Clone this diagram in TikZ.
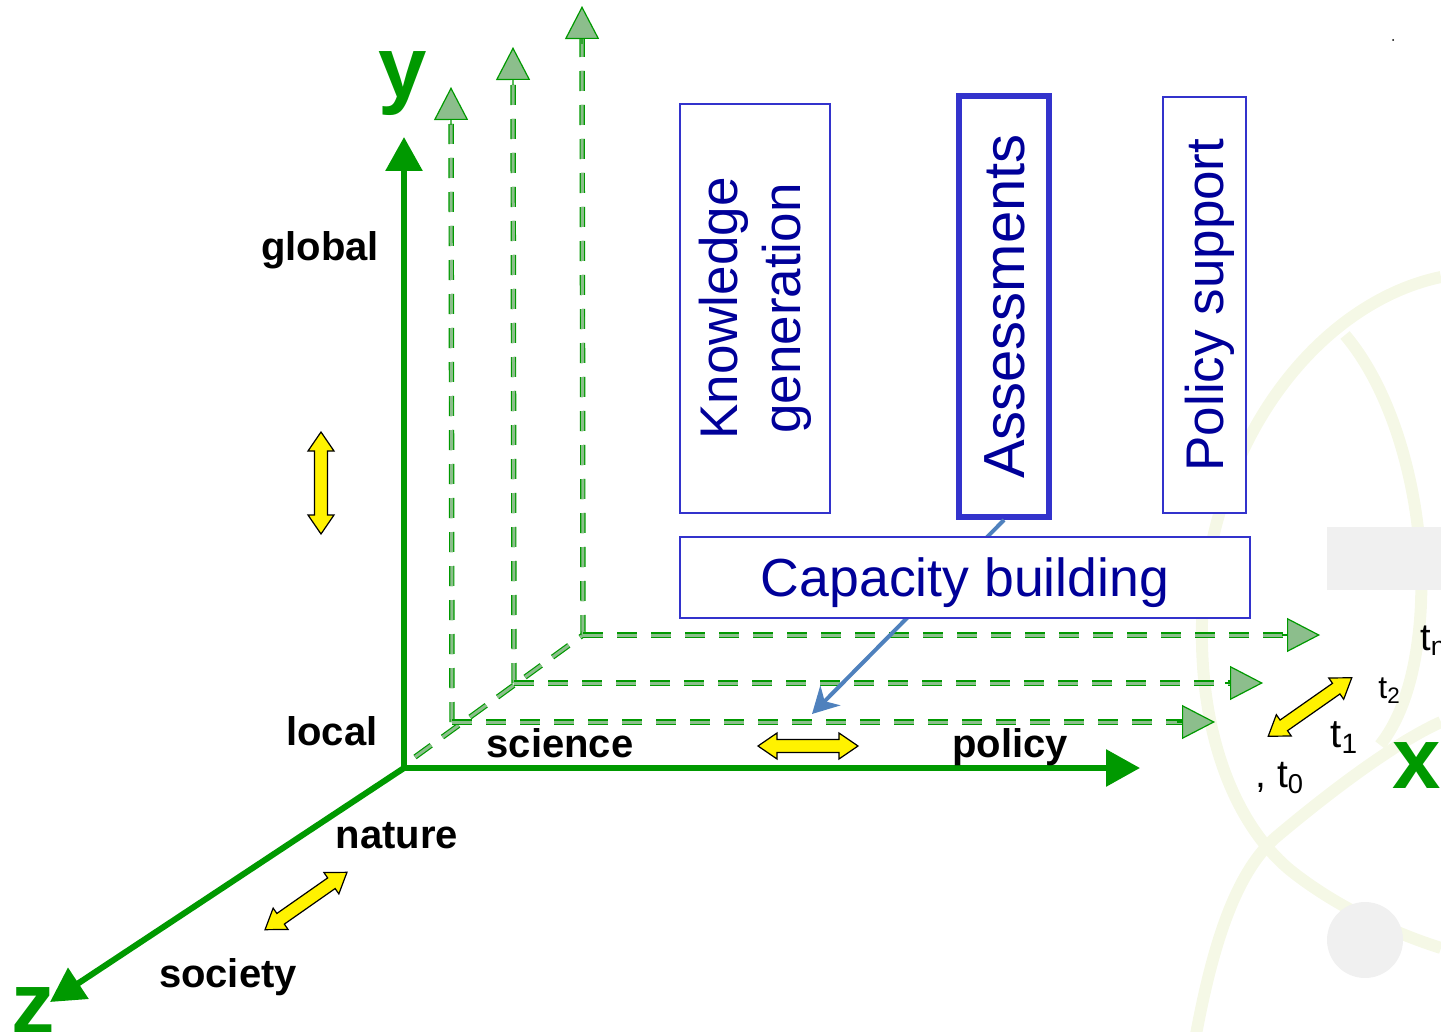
\documentclass[tikz,border=0pt]{standalone}
\usepackage{fontspec}
\setmainfont{Liberation Sans}
\usepackage{xcolor}
\usepackage{tikz}
\usetikzlibrary{calc}
\usetikzlibrary{arrows.meta}

\definecolor{axgreen}{RGB}{0,153,0}
\definecolor{dashfill}{RGB}{140,190,140}
\definecolor{boxblue}{RGB}{51,51,204}
\definecolor{textblue}{RGB}{0,0,153}
\definecolor{linkblue}{RGB}{79,129,189}
\definecolor{wmark}{RGB}{245,248,230}
\definecolor{wgray}{RGB}{240,240,240}

\tikzset{
  ydouble/.pic={%
    \pgfmathsetmacro\ya{#1/2}%
    \pgfmathsetmacro\yb{#1/2-19}%
    \draw[black,line width=0.6pt,fill=yellow] %
      (-\ya,0) -- (-\yb,13) -- (-\yb,6.5) -- (\yb,6.5) -- (\yb,13) -- (\ya,0) %
      -- (\yb,-13) -- (\yb,-6.5) -- (-\yb,-6.5) -- (-\yb,-13) -- cycle;
  }
}

\begin{document}
\begin{tikzpicture}[x=0.5pt,y=-0.5pt,
  axis/.style={axgreen,line width=3pt,-{Triangle[length=17pt,width=18pt]}},
  backline/.style={draw=axgreen,line width=0.6pt,double=dashfill,double distance=1.5pt,dash pattern=on 10pt off 7pt},
  backtip/.style={draw=axgreen,line width=0.6pt,-{Triangle[length=16.5pt,width=17pt,fill=dashfill]}},
  wline/.style={wmark,line width=6pt},
  lbl/.style={font=\fontsize{20}{24}\selectfont\bfseries,anchor=base,inner sep=0pt},
  axlbl/.style={text=axgreen,font=\fontsize{43.5}{50}\selectfont\bfseries,anchor=base,inner sep=0pt},
  tlbl/.style={anchor=base west,inner sep=0pt},
  vbox/.style={draw=boxblue,line width=0.75pt,fill=white,text=textblue,rotate=90,align=center,inner sep=0pt},
  link/.style={linkblue,line width=2pt,-{Stealth[length=13pt,width=14pt,inset=4pt]}}
]
  \useasboundingbox (0,0) rectangle (1441,1032);
  \clip (0,0) rectangle (1441,1032);

  % faint logo in the back
  \draw[wline] (1441,277) .. controls (1330,300) and (1220,420) .. (1203,600) %
    .. controls (1195,720) and (1230,820) .. (1290,870) %
    .. controls (1340,910) and (1400,935) .. (1441,948);
  \draw[wline] (1195,1040) .. controls (1215,930) and (1240,870) .. (1275,838) %
    .. controls (1320,800) and (1390,745) .. (1441,722);
  \draw[wline] (1345,335) .. controls (1400,400) and (1428,520) .. (1420,620) %
    .. controls (1415,680) and (1400,720) .. (1380,745);
  \fill[wgray] (1327,527) rectangle (1441,590);
  \fill[wgray] (1365,940) circle (38);
  \fill (1393,40) circle (1);

  \coordinate (O) at (404,768);
  \coordinate (ytip) at (404,137);
  \coordinate (xtip) at (1140,768);
  \coordinate (ztip) at (50,1002);

  \coordinate (c1) at (452,722);
  \coordinate (c2) at (514,683);
  \coordinate (c3) at (583,635);
  \coordinate (v1) at (451,87);
  \coordinate (v2) at (513,47);
  \coordinate (v3) at (582,6);
  \coordinate (h1) at (1215,722);
  \coordinate (h2) at (1263,683);
  \coordinate (h3) at (1320,635);
  \coordinate (d0) at (415,757);

  % dashed back frame
  \draw[backline] (d0) -- (c3);
  \foreach \c/\t in {c1/v1,c2/v2,c3/v3,c1/h1,c2/h2,c3/h3}{
    \draw[backline,shorten >=16pt] (\c) -- (\t);
    \draw[backtip] ($(\t)!19pt!(\c)$) -- (\t);
  }

  % main axes
  \draw[axis] (O) -- (ytip);
  \draw[axis] (O) -- (xtip);
  \draw[axis] (O) -- (ztip);

  \node[axlbl] (ylbl) at (403,98) {y};
  \node[axlbl] (xlbl) at (1417,788) {x};
  \node[axlbl] (zlbl) at (33,1033) {z};

  % activity boxes
  \node[vbox,minimum width=204.5pt,minimum height=75pt,font=\fontsize{26.5}{31.5}\selectfont] %
    (know) at (755,308.5) {Knowledge\\generation};
  \node[vbox,line width=3pt,minimum width=210.5pt,minimum height=45pt,%
    text height=20.8pt,text depth=0pt,font=\fontsize{29}{34}\selectfont] %
    (assess) at (1004,306.5) {Assessments};
  \node[vbox,minimum width=208pt,minimum height=41.5pt,%
    text height=19pt,text depth=0pt,font=\fontsize{26.5}{31.5}\selectfont] %
    (policysup) at (1204.5,305) {Policy support};

  \coordinate (sci) at (812,714);
  \draw[link] (assess.west) -- (sci);

  \node[draw=boxblue,line width=0.75pt,fill=white,text=textblue,inner sep=0pt,%
    minimum width=285pt,minimum height=40.5pt,text height=19.2pt,text depth=0pt,%
    font=\fontsize{26.8}{30}\selectfont] %
    (cap) at (965,577.5) {Capacity building};

  % axis words
  \node[lbl] (global) at (320,261) {global};
  \node[lbl] (local) at (332,745) {local};
  \node[lbl] (science) at (560,757) {science};
  \node[lbl] (policy) at (1010,757) {policy};
  \node[lbl] (nature) at (397,848) {nature};
  \node[lbl] (society) at (228,987) {society};

  % time steps
  \node[tlbl,font=\fontsize{19}{22}\selectfont] (tn) at (1420,650) {t\textsubscript{n}};
  \node[tlbl,font=\fontsize{16}{19}\selectfont] (t2) at (1378,698) {t\textsubscript{2}};
  \node[tlbl,font=\fontsize{20}{24}\selectfont] (t1) at (1330,747) {t\textsubscript{1}};
  \node[tlbl,font=\fontsize{19.5}{23}\selectfont] (t0) at (1255,787) {, t\textsubscript{0}};

  % yellow double arrows
  \pic[rotate=90] at (321,483) {ydouble=102};
  \pic at (808,746) {ydouble=100};
  \pic[rotate=35] at (306,901) {ydouble=100};
  \pic[rotate=35] at (1310,707) {ydouble=102};
\end{tikzpicture}
\end{document}
